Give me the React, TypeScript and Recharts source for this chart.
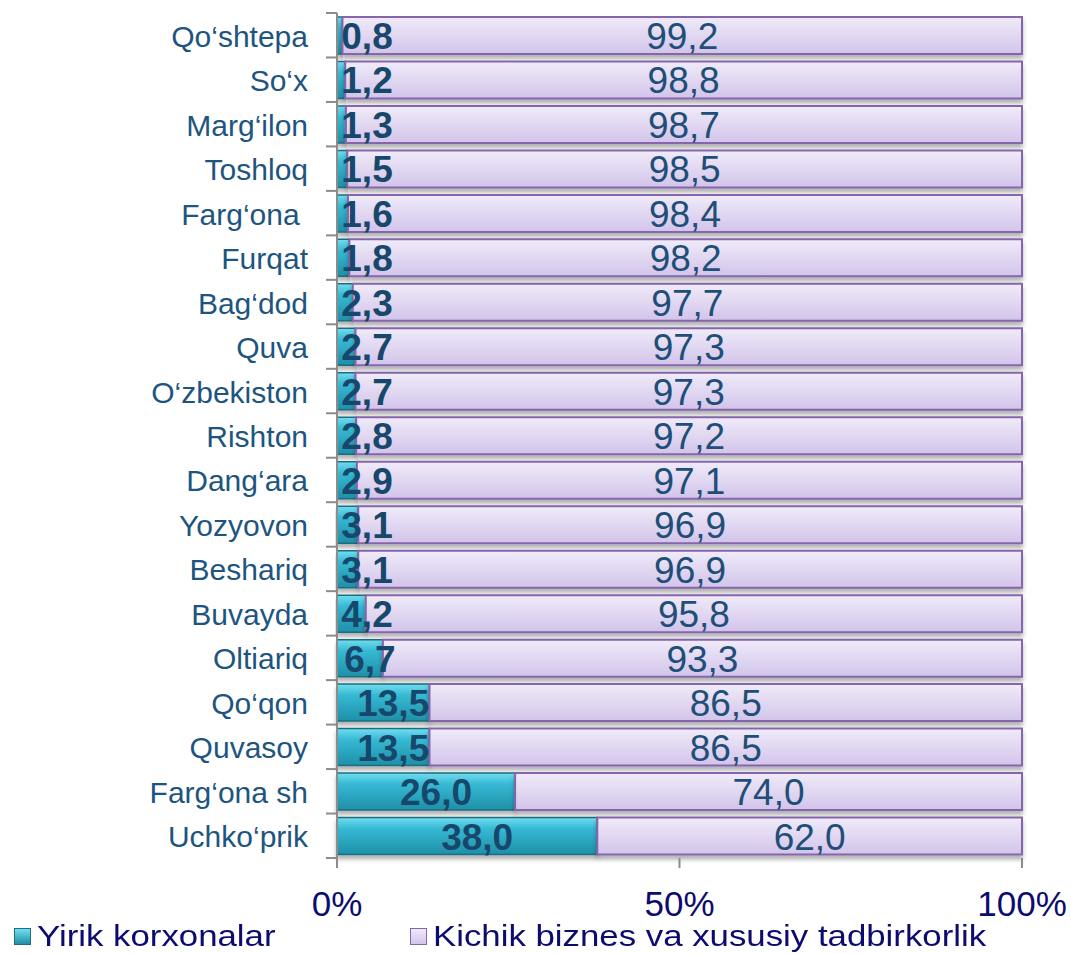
import { BarChart, Bar, XAxis, YAxis, LabelList } from 'recharts'

const categories = [
  'Qo‘shtepa', 'So‘x', 'Marg‘ilon', 'Toshloq', 'Farg‘ona ', 'Furqat', 'Bag‘dod', 'Quva',
  'O‘zbekiston', 'Rishton', 'Dang‘ara', 'Yozyovon', 'Beshariq', 'Buvayda', 'Oltiariq',
  'Qo‘qon', 'Quvasoy', 'Farg‘ona sh', 'Uchko‘prik',
]
const yirik = [0.8, 1.2, 1.3, 1.5, 1.6, 1.8, 2.3, 2.7, 2.7, 2.8, 2.9, 3.1, 3.1, 4.2, 6.7, 13.5, 13.5, 26.0, 38.0]
const kichik = [99.2, 98.8, 98.7, 98.5, 98.4, 98.2, 97.7, 97.3, 97.3, 97.2, 97.1, 96.9, 96.9, 95.8, 93.3, 86.5, 86.5, 74.0, 62.0]
const xTicks = [0, 50, 100]

const data = categories.map((name, i) => ({ name, yirik: yirik[i], kichik: kichik[i] }))

const W = 1071
const H = 954
const X_H = 30
const MARGIN = { top: 13, right: 49, left: 0, bottom: 66 }
const Y_W = 337
const STEP = (H - MARGIN.top - MARGIN.bottom - X_H) / categories.length
const AXIS = '#8c8c8c'
const CAT = '#1d5580'
const NAVY = '#0c0c70'
const FONT = 'Arial, "Liberation Sans", sans-serif'

const fmt = (v: number) => v.toFixed(1).replace('.', ',')

function CatTick({ y, payload, index }: any) {
  const last = index === categories.length - 1
  const ax = Y_W
  return (
    <g>
      <text
        x={ax - 29}
        y={y + 1}
        textAnchor="end"
        dominantBaseline="central"
        fontSize={30}
        fill={CAT}
        fontFamily={FONT}
        style={{ whiteSpace: 'pre' }}
      >
        {payload.value}
      </text>
      <line x1={ax - 11} x2={ax} y1={y - STEP / 2} y2={y - STEP / 2} stroke={AXIS} strokeWidth={2} />
      {last && <line x1={ax - 11} x2={ax} y1={y + STEP / 2} y2={y + STEP / 2} stroke={AXIS} strokeWidth={2} />}
    </g>
  )
}

function PctTick({ x, payload }: any) {
  const base = H - MARGIN.bottom - X_H
  return (
    <g>
      <line x1={x} x2={x} y1={base} y2={base + 10} stroke={AXIS} strokeWidth={2} />
      <text x={x} y={base + 45} textAnchor="middle" dominantBaseline="central" fontSize={35} fill={NAVY} fontFamily={FONT}>
        {payload.value}%
      </text>
    </g>
  )
}

function YirikLabel({ x, y, width, height, value }: any) {
  const cx = Math.max(x + width / 2 + 10, x + 30)
  return (
    <text x={cx} y={y + height / 2 + 1} textAnchor="middle" dominantBaseline="central" fontSize={37} fontWeight="bold" fill="#17486c" fontFamily={FONT}>
      {fmt(value)}
    </text>
  )
}

function KichikLabel({ x, y, width, height, value }: any) {
  return (
    <text x={x + width / 2} y={y + height / 2 + 1} textAnchor="middle" dominantBaseline="central" fontSize={37} fill="#1f4e79" fontFamily={FONT}>
      {fmt(value)}
    </text>
  )
}

export default function App() {
  return (
    <div style={{ position: 'absolute', left: 0, top: 0, width: W, height: H, background: '#fff' }}>
      <BarChart width={W} height={H} data={data} layout="vertical" margin={MARGIN} barSize={37}>
        <defs>
          <linearGradient id="tealGrad" x1="0" y1="0" x2="0" y2="1">
            <stop offset="0%" stopColor="#72def0" />
            <stop offset="30%" stopColor="#36b9d4" />
            <stop offset="100%" stopColor="#1f8fa8" />
          </linearGradient>
          <linearGradient id="lilacGrad" x1="0" y1="0" x2="0" y2="1">
            <stop offset="0%" stopColor="#f0ebf9" />
            <stop offset="100%" stopColor="#d2c4ea" />
          </linearGradient>
          <filter id="shadow" x="-5%" y="-20%" width="110%" height="150%">
            <feDropShadow dx="0" dy="4" stdDeviation="2" floodColor="#000" floodOpacity="0.3" />
          </filter>
        </defs>
        <XAxis
          type="number"
          domain={[0, 100]}
          ticks={xTicks}
          height={X_H}
          axisLine={false}
          tickLine={false}
          tick={<PctTick />}
          interval={0}
        />
        <YAxis
          type="category"
          dataKey="name"
          width={Y_W}
          axisLine={{ stroke: AXIS, strokeWidth: 2 }}
          tickLine={false}
          tick={<CatTick />}
          interval={0}
        />
        <Bar
          dataKey="yirik"
          stackId="a"
          fill="url(#tealGrad)"
          stroke="#1e6d80"
          strokeWidth={1.5}
          filter="url(#shadow)"
          isAnimationActive={false}
        >
          <LabelList dataKey="yirik" content={<YirikLabel />} />
        </Bar>
        <Bar
          dataKey="kichik"
          stackId="a"
          fill="url(#lilacGrad)"
          stroke="#8566ad"
          strokeWidth={2}
          filter="url(#shadow)"
          isAnimationActive={false}
        >
          <LabelList dataKey="kichik" content={<KichikLabel />} />
        </Bar>
      </BarChart>
      <div
        style={{
          position: 'absolute',
          top: 920,
          left: 14,
          display: 'flex',
          alignItems: 'center',
          fontFamily: FONT,
          fontSize: 29,
          color: NAVY,
          whiteSpace: 'nowrap',
        }}
      >
        <span style={{ width: 15, height: 15, background: 'linear-gradient(#72def0, #1f8fa8)', border: '1px solid #1e6d80', marginRight: 6 }} />
        <span style={{ display: 'inline-block', width: 373, transform: 'scaleX(1.2)', transformOrigin: 'left center' }}>Yirik korxonalar</span>
        <span style={{ width: 15, height: 15, background: 'linear-gradient(#f0ebf9, #d2c4ea)', border: '1px solid #8566ad', marginRight: 6 }} />
        <span style={{ display: 'inline-block', transform: 'scaleX(1.2)', transformOrigin: 'left center' }}>Kichik biznes va xususiy tadbirkorlik</span>
      </div>
    </div>
  )
}
